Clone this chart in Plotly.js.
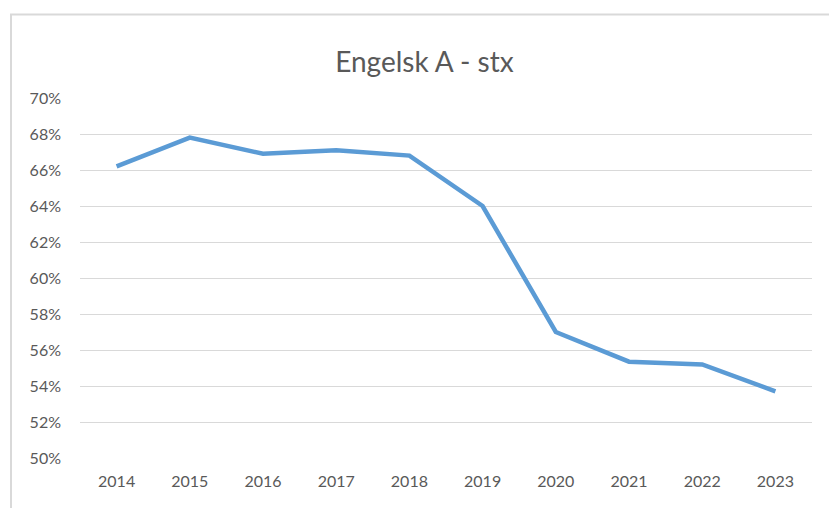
<!DOCTYPE html>
<html>
<head>
<meta charset="utf-8">
<script src="https://cdn.plot.ly/plotly-3.0.1.min.js"></script>
<style>
html, body { margin: 0; padding: 0; background: #ffffff; }
#chart { width: 829px; height: 508px; }
</style>
</head>
<body>
<div id="chart"></div>
<script>
const years = ["2014", "2015", "2016", "2017", "2018", "2019", "2020", "2021", "2022", "2023"];
const shares = [0.662, 0.678, 0.669, 0.671, 0.668, 0.640, 0.570, 0.5535, 0.552, 0.537];
const titleText = "Engelsk A - stx";

const FONT = "Lato, 'Open Sans', sans-serif";
const TXT = "#595959";
const GRID = "#d9d9d9";

const trace = {
  type: "scatter",
  mode: "lines",
  x: years,
  y: shares,
  line: { color: "#5B9BD5", width: 4.5 },
  hoverinfo: "x+y"
};

const layout = {
  width: 829,
  height: 508,
  margin: { l: 80, r: 17, t: 98, b: 50 },
  paper_bgcolor: "#ffffff",
  plot_bgcolor: "#ffffff",
  showlegend: false,
  title: {
    text: titleText,
    font: { family: FONT, size: 28, color: TXT },
    x: 0.512, xanchor: "center",
    y: 1 - 62 / 508, yanchor: "middle"
  },
  xaxis: {
    type: "category",
    range: [-0.5, 9.5],
    showgrid: false,
    showline: false,
    zeroline: false,
    ticks: "",
    ticklabelstandoff: 12,
    tickfont: { family: FONT, size: 16, color: TXT }
  },
  yaxis: {
    range: [0.5, 0.7],
    dtick: 0.02,
    tick0: 0.5,
    tickformat: ".0%",
    showgrid: true,
    gridcolor: GRID,
    gridwidth: 1,
    zeroline: false,
    showline: false,
    ticks: "",
    ticklabelstandoff: 18,
    tickfont: { family: FONT, size: 16, color: TXT }
  },
  shapes: [
    { type: "line", xref: "paper", yref: "paper",
      x0: (11 - 80) / 732, x1: (11 - 80) / 732,
      y0: (458 - 14.5) / 360, y1: (458 - 520) / 360,
      line: { color: GRID, width: 2 } },
    { type: "line", xref: "paper", yref: "paper",
      x0: (10 - 80) / 732, x1: (835 - 80) / 732,
      y0: (458 - 14.5) / 360, y1: (458 - 14.5) / 360,
      line: { color: GRID, width: 2 } }
  ]
};

Plotly.newPlot("chart", [trace], layout, { displayModeBar: false, staticPlot: true });
</script>
</body>
</html>
